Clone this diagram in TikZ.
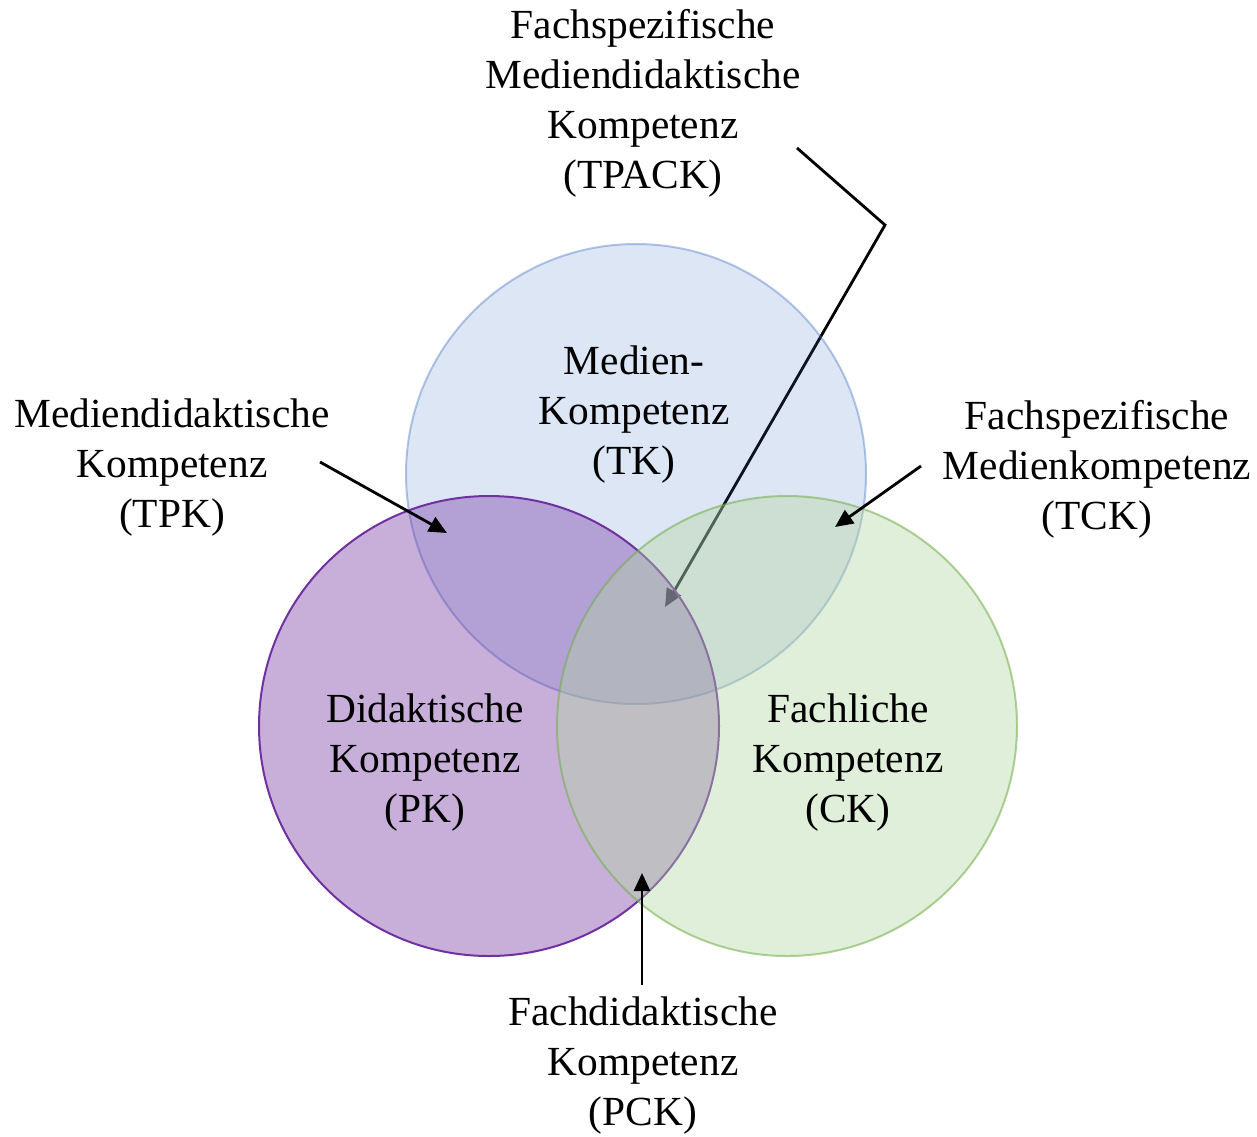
\documentclass[tikz,border=0pt]{standalone}
\usepackage{fontspec}
\setmainfont{Liberation Serif}
\usetikzlibrary{arrows.meta}
\definecolor{blueT}{HTML}{4472C4}
\definecolor{purpleP}{HTML}{7030A0}
\definecolor{greenC}{HTML}{B2D7A0}
\definecolor{greenline}{HTML}{70AD47}

\begin{document}
\begin{tikzpicture}[x=0.5pt,y=-0.5pt,
    set node/.style={circle,minimum size=230pt,inner sep=0pt,line width=1pt},
    text node/.style={align=center,font=\fontsize{20.7}{25}\selectfont},
    pointer/.style={-{Triangle[length=9pt,width=8pt]},line width=1.4pt}]

  \useasboundingbox (0,0) rectangle (1257,1136);

  % long pointer to the middle, lies under the circles
  \coordinate (a1) at (797,148);
  \coordinate (a2) at (885,225);
  \coordinate (t1) at (665,607);
  \draw[pointer] (a1) -- (a2) -- (t1);

  \node[set node,fill=blueT,fill opacity=0.18,draw=blueT,draw opacity=0.4] (TK) at (636,474) {};
  \node[set node,fill=purpleP,fill opacity=0.385,draw=purpleP] (PK) at (489,726) {};
  \node[set node,fill=greenC,fill opacity=0.4,draw=greenline,draw opacity=0.55] (CK) at (787,726) {};

  \node[text node] (tk) at (634,415) {Medien-\\Kompetenz\\(TK)};
  \node[text node] (pk) at (425,763) {Didaktische\\Kompetenz\\(PK)};
  \node[text node] (ck) at (848,763) {Fachliche\\Kompetenz\\(CK)};

  \node[text node] (tpack) at (643,103) {Fachspezifische\\Mediendidaktische\\Kompetenz\\(TPACK)};
  \node[text node] (tpk) at (172,468) {Mediendidaktische\\Kompetenz\\(TPK)};
  \node[text node] (tck) at (1097,469) {Fachspezifische\\Medienkompetenz\\(TCK)};
  \node[text node] (pck) at (643,1066) {Fachdidaktische\\Kompetenz\\(PCK)};

  % short pointers
  \coordinate (a3) at (320,462);
  \coordinate (t2) at (447,533);
  \coordinate (a4) at (921,466);
  \coordinate (t3) at (835,527);
  \coordinate (a5) at (642,985);
  \coordinate (t4) at (642,873);
  \draw[pointer] (a3) -- (t2);
  \draw[pointer] (a4) -- (t3);
  \draw[pointer] (a5) -- (t4);
\end{tikzpicture}
\end{document}
